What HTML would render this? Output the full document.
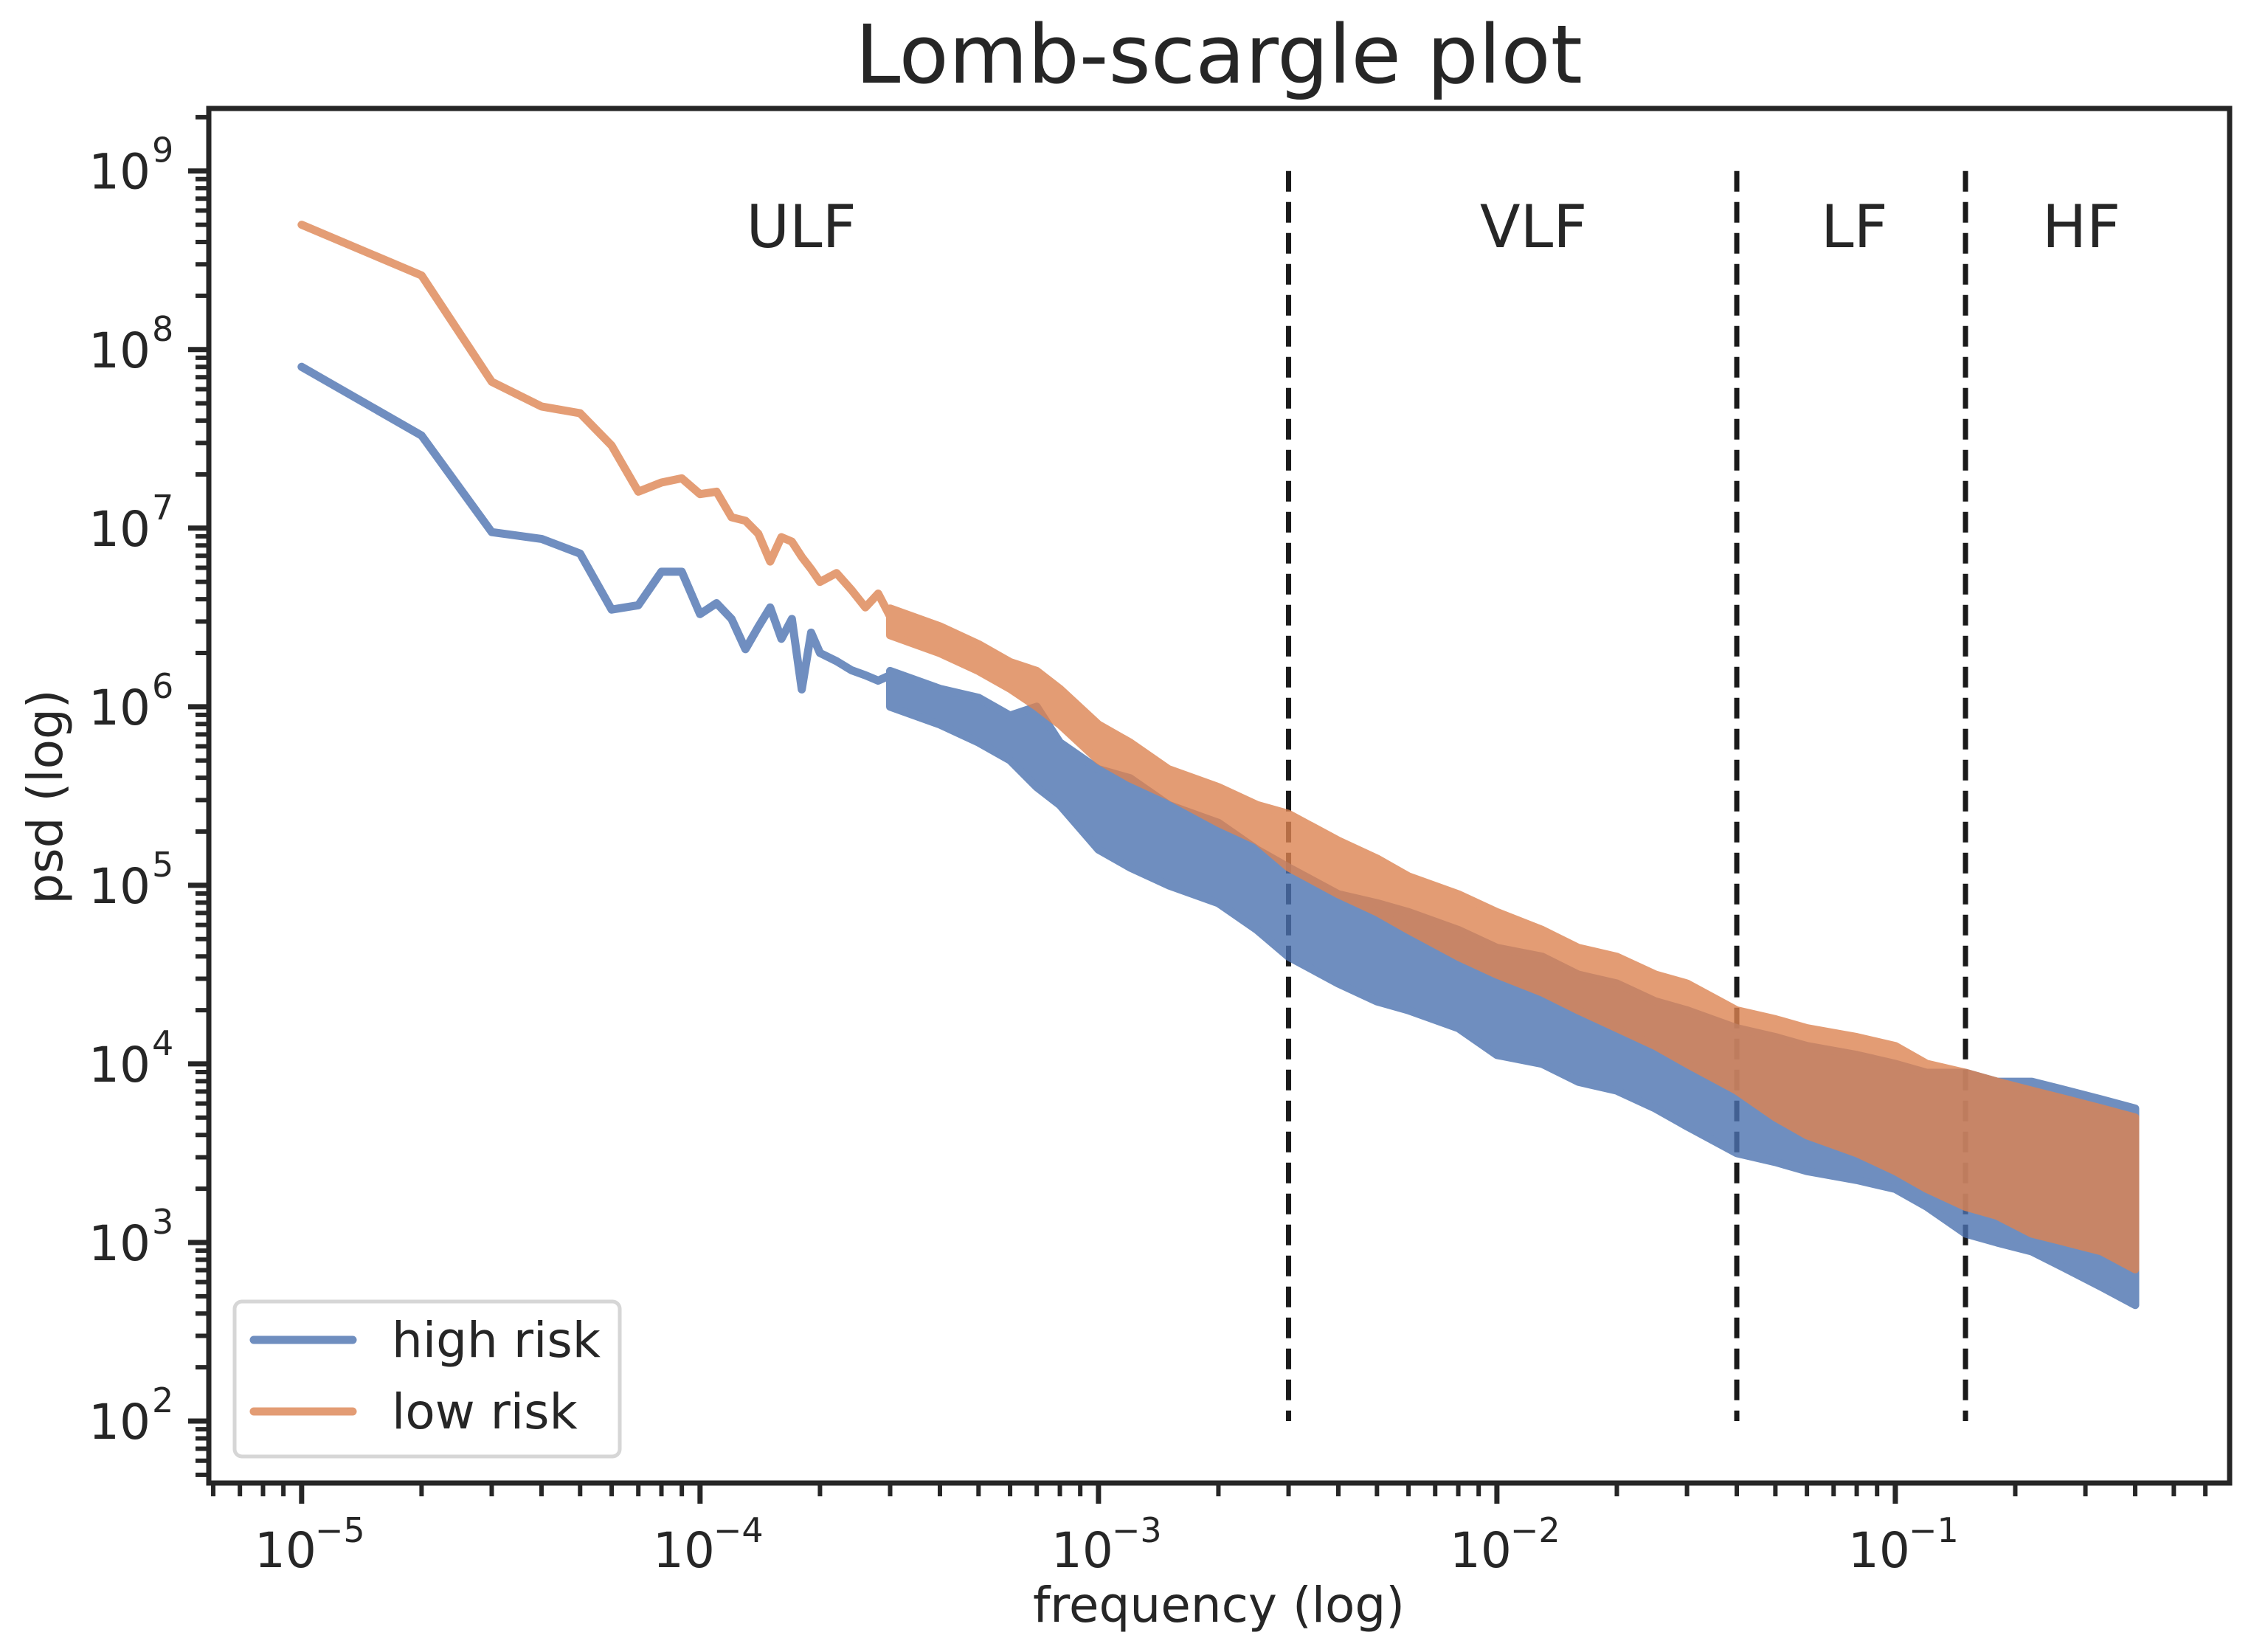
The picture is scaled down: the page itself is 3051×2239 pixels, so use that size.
<!DOCTYPE html>
<html><head><meta charset="utf-8"><style>
html,body{margin:0;padding:0;background:#fff;}
svg{display:block;font-family:"DejaVu Sans","Liberation Sans",sans-serif;}
</style></head><body>
<svg id="chart" width="3051" height="2239" viewBox="0 0 3051 2239" xmlns="http://www.w3.org/2000/svg">
<rect width="3051" height="2239" fill="#fff"/>
<text x="1652" y="112" font-size="110" text-anchor="middle" fill="#262626">Lomb-scargle plot</text>
<g id="plot"></g>
<text x="1652" y="2198" font-size="66" text-anchor="middle" fill="#262626">frequency (log)</text>
<text x="0" y="0" font-size="66" text-anchor="middle" fill="#262626" transform="translate(84,1080) rotate(-90)">psd (log)</text>
</svg>
<script>
// ---- data ----
const bandNames = ["ULF","VLF","LF","HF"];
const bandLabelLogX = [-3.746,-1.908,-1.103,-0.533];
const bandEdges = [0.003,0.04,0.15];
const xTickExps = [-5,-4,-3,-2,-1];
const yTickExps = [2,3,4,5,6,7,8,9];
const seriesNames = ["high risk","low risk"];
// sparse low-frequency part
const highFreq = [1e-5,2e-5,3e-5,4e-5,5e-5,6e-5,7e-5,8e-5,9e-5,1e-4,1.1e-4,1.2e-4,1.3e-4,1.4e-4,1.5e-4,1.6e-4,1.7e-4,1.8e-4,1.9e-4,2e-4,2.2e-4,2.4e-4,2.6e-4,2.8e-4,3e-4];
const highPsd = [8e7,3.3e7,9.5e6,8.7e6,7.2e6,3.5e6,3.7e6,5.7e6,5.7e6,3.3e6,3.8e6,3.1e6,2.1e6,2.8e6,3.6e6,2.4e6,3.1e6,1.25e6,2.6e6,2e6,1.8e6,1.6e6,1.5e6,1.4e6,1.5e6];
const lowFreq = [1e-5,2e-5,3e-5,4e-5,5e-5,6e-5,7e-5,8e-5,9e-5,1e-4,1.1e-4,1.2e-4,1.3e-4,1.4e-4,1.5e-4,1.6e-4,1.7e-4,1.8e-4,1.9e-4,2e-4,2.2e-4,2.4e-4,2.6e-4,2.8e-4,3e-4];
const lowPsd = [5e8,2.6e8,6.6e7,4.8e7,4.4e7,2.9e7,1.6e7,1.8e7,1.9e7,1.55e7,1.6e7,1.15e7,1.1e7,9.3e6,6.5e6,8.9e6,8.4e6,6.9e6,5.9e6,5e6,5.6e6,4.5e6,3.6e6,4.3e6,3.2e6];
// dense noisy part: envelope (log10 psd)
const bandFreq = [3e-4,4e-4,5e-4,6e-4,7e-4,8e-4,1e-3,1.2e-3,1.5e-3,2e-3,2.5e-3,3e-3,4e-3,5e-3,6e-3,8e-3,1e-2,1.3e-2,1.6e-2,2e-2,2.5e-2,3e-2,4e-2,5e-2,6e-2,8e-2,0.1,0.12,0.15,0.18,0.22,0.27,0.33,0.4];
const highUpper = [6.2,6.1,6.05,5.95,6.0,5.8,5.65,5.6,5.45,5.35,5.2,5.1,4.95,4.9,4.85,4.75,4.65,4.6,4.5,4.45,4.35,4.3,4.2,4.15,4.1,4.05,4.0,3.95,3.95,3.9,3.9,3.85,3.8,3.75];
const highLower = [6.0,5.9,5.8,5.7,5.55,5.45,5.2,5.1,5.0,4.9,4.75,4.6,4.45,4.35,4.3,4.2,4.05,4.0,3.9,3.85,3.75,3.65,3.5,3.45,3.4,3.35,3.3,3.2,3.05,3.0,2.95,2.85,2.75,2.65];
const lowUpper = [6.55,6.45,6.35,6.25,6.2,6.1,5.9,5.8,5.65,5.55,5.45,5.4,5.25,5.15,5.05,4.95,4.85,4.75,4.65,4.6,4.5,4.45,4.3,4.25,4.2,4.15,4.1,4.0,3.95,3.9,3.85,3.8,3.75,3.7];
const lowLower = [6.4,6.3,6.2,6.1,6.0,5.9,5.7,5.6,5.5,5.35,5.25,5.1,4.95,4.85,4.75,4.6,4.5,4.4,4.3,4.2,4.1,4.0,3.85,3.7,3.6,3.5,3.4,3.3,3.2,3.15,3.05,3.0,2.95,2.85];

// ---- axes ----
const L=283,R=3022,T=147,B=2010;
const X0=-5.233,X1=-0.161,Y0=1.653,Y1=9.35;
function xs(f){return L+(Math.log10(f)-X0)/(X1-X0)*(R-L);}
function xl(lg){return L+(lg-X0)/(X1-X0)*(R-L);}
function ys(v){return B-(Math.log10(v)-Y0)/(Y1-Y0)*(B-T);}
function yl(lg){return B-(lg-Y0)/(Y1-Y0)*(B-T);}
const NS="http://www.w3.org/2000/svg";
const plot=document.getElementById('plot');
function mk(tag,attrs,parent){const e=document.createElementNS(NS,tag);for(const k in attrs)e.setAttribute(k,attrs[k]);(parent||plot).appendChild(e);return e;}

bandEdges.forEach(function(f){
  const ln=mk('line',{x1:xs(f),x2:xs(f),y1:ys(1e9),y2:ys(1e2),stroke:'#1a1a1a','stroke-width':7,'stroke-dasharray':'28 14'});
  
  
});

const blue='#4c72b0',orange='#dd8452';
function series(freq,psd,up,lo,color,name){
  const g=mk('g',{opacity:0.8});
  
  
  const pts=freq.map(function(f,i){return xs(f).toFixed(1)+','+ys(psd[i]).toFixed(1);}).join(' ');
  mk('polyline',{points:pts,fill:'none',stroke:color,'stroke-width':11,'stroke-linejoin':'round','stroke-linecap':'round'},g);
  let poly=[];
  bandFreq.forEach(function(f,i){poly.push(xs(f).toFixed(1)+','+yl(up[i]).toFixed(1));});
  for(let i=bandFreq.length-1;i>=0;i--)poly.push(xs(bandFreq[i]).toFixed(1)+','+yl(lo[i]).toFixed(1));
  mk('polygon',{points:poly.join(' '),fill:color,stroke:color,'stroke-width':11,'stroke-linejoin':'round'},g);
}
series(highFreq,highPsd,highUpper,highLower,blue,'high-risk-series');
series(lowFreq,lowPsd,lowUpper,lowLower,orange,'low-risk-series');

bandNames.forEach(function(n,i){
  const t=mk('text',{x:xl(bandLabelLogX[i]),y:335,'font-size':80,'text-anchor':'middle',fill:'#262626'});
  t.textContent=n;
  
  
});

const fr=mk('rect',{x:L,y:T,width:R-L,height:B-T,fill:'none',stroke:'#262626','stroke-width':7});



for(let e=-6;e<=0;e++){for(let m=1;m<10;m++){
  const lg=e+Math.log10(m); if(lg<X0||lg>X1)continue;
  const x=xl(lg); const len=m===1?28:18;
  mk('line',{x1:x,x2:x,y1:B,y2:B+len,stroke:'#262626','stroke-width':m===1?7:6});
}}
xTickExps.forEach(function(e){
  const t=mk('text',{x:xl(e)-22,y:B+114,'font-size':66,'text-anchor':'middle',fill:'#262626'});
  t.textContent='10';
  
  
  const s=mk('text',{x:xl(e)+18,y:B+80,'font-size':46,'text-anchor':'start',fill:'#262626'});
  s.textContent='\u2212'+(-e);
});
for(let e=1;e<=9;e++){for(let m=1;m<10;m++){
  const lg=e+Math.log10(m); if(lg<Y0||lg>Y1)continue;
  const y=yl(lg); const len=m===1?28:18;
  mk('line',{x1:L,x2:L-len,y1:y,y2:y,stroke:'#262626','stroke-width':m===1?7:6});
}}
yTickExps.forEach(function(e){
  const t=mk('text',{x:204,y:yl(e)+24,'font-size':66,'text-anchor':'end',fill:'#262626'});
  t.textContent='10';
  
  
  const s=mk('text',{x:206,y:yl(e)-12,'font-size':46,'text-anchor':'start',fill:'#262626'});
  s.textContent=String(e);
});

const lg=mk('g',{});


mk('rect',{x:318,y:1764,width:522,height:210,rx:10,fill:'#fff','fill-opacity':0.8,stroke:'#d6d6d6','stroke-width':5},lg);
[blue,orange].forEach(function(c,i){
  const y=1816+i*97;
  const ln=mk('line',{x1:344,x2:478,y1:y,y2:y,stroke:c,'stroke-width':11,'stroke-linecap':'round',opacity:0.8},lg);
  
  
  const t=mk('text',{x:531,y:y+23,'font-size':66,fill:'#262626'},lg);
  t.textContent=seriesNames[i];
  
  
});
</script>
</body></html>
